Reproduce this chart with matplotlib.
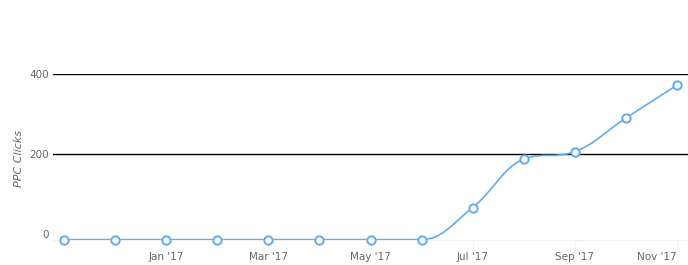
import matplotlib
matplotlib.use("Agg")
import matplotlib.pyplot as plt
from matplotlib.path import Path
from matplotlib.patches import PathPatch
import numpy as np

# monthly PPC clicks, Nov '16 .. Nov '17
months = ["Nov '16", "Dec '16", "Jan '17", "Feb '17", "Mar '17", "Apr '17", "May '17",
          "Jun '17", "Jul '17", "Aug '17", "Sep '17", "Oct '17", "Nov '17"]
clicks = [-14, -14, -14, -14, -14, -14, -14, -14, 66, 187, 206, 290, 372]
tick_idx = [2, 4, 6, 8, 10, 12]
y_ticks = [0, 200, 400]

line_col = "#64abee"
txt_col = "#666666"


def spline_path(xs, ys, smoothing=1.5):
    # highcharts-like spline control points
    n = len(xs)
    left = [(xs[i], ys[i]) for i in range(n)]
    right = [(xs[i], ys[i]) for i in range(n)]
    denom = smoothing + 1
    for i in range(1, n - 1):
        x, y = xs[i], ys[i]
        lx, ly = xs[i - 1], ys[i - 1]
        nx, ny = xs[i + 1], ys[i + 1]
        lcx = (smoothing * x + lx) / denom
        lcy = (smoothing * y + ly) / denom
        rcx = (smoothing * x + nx) / denom
        rcy = (smoothing * y + ny) / denom
        if rcx != lcx:
            corr = ((rcy - lcy) * (rcx - x)) / (rcx - lcx) + y - rcy
            lcy += corr
            rcy += corr
        if lcy > max(ly, y):
            lcy = max(ly, y); rcy = 2 * y - lcy
        elif lcy < min(ly, y):
            lcy = min(ly, y); rcy = 2 * y - lcy
        if rcy > max(ny, y):
            rcy = max(ny, y); lcy = 2 * y - rcy
        elif rcy < min(ny, y):
            rcy = min(ny, y); lcy = 2 * y - rcy
        left[i] = (lcx, lcy)
        right[i] = (rcx, rcy)
    verts = [(xs[0], ys[0])]
    codes = [Path.MOVETO]
    for i in range(1, n):
        verts += [right[i - 1], left[i], (xs[i], ys[i])]
        codes += [Path.CURVE4] * 3
    return Path(verts, codes)


x = np.arange(len(months))

fig = plt.figure(figsize=(6.88, 2.65), dpi=100)
W, H = 688, 265
ax = fig.add_axes([53 / W, (H - 240) / H, (688 - 53) / W, (240 - 74) / H])

ax.set_xlim(-0.215, 12.215)
ax.set_ylim(-15, 400)

for v in y_ticks[1:]:
    ax.axhline(v, color="black", lw=1, zorder=1)

ax.add_patch(PathPatch(spline_path(list(x), clicks), fill=False, edgecolor=line_col,
                       lw=1.2, zorder=2, capstyle="round"))
ax.plot(x, clicks, ls="none", marker="o", ms=6.0, mfc="white", mec=line_col,
        mew=1.4, zorder=3, clip_on=False)

for s in ["top", "right", "left"]:
    ax.spines[s].set_visible(False)
ax.spines["bottom"].set_color("#f0f0f0")
ax.spines["bottom"].set_linewidth(0.8)

ax.set_yticks(y_ticks)
ax.set_yticklabels([str(v) for v in y_ticks], color=txt_col, fontsize=7.5)
ax.tick_params(axis="y", length=0, pad=3)

ax.set_xticks(tick_idx)
labs = ax.set_xticklabels([months[i] for i in tick_idx], color=txt_col, fontsize=7.5)
labs[-1].set_horizontalalignment("right")
ax.tick_params(axis="x", length=8, color="#f3f3f3", pad=1)

ax.set_ylabel("PPC Clicks", color=txt_col, fontsize=8, style="italic")
ax.yaxis.set_label_coords(-29 / 635, 0.494)

fig.savefig("out.png", dpi=100)
